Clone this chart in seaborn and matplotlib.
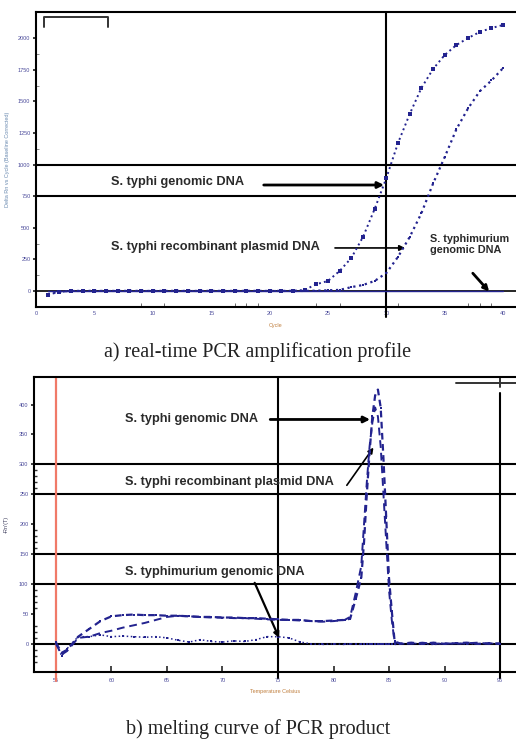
import numpy as np
import pandas as pd
import seaborn as sns
import matplotlib
matplotlib.use('Agg')
import matplotlib.pyplot as plt

# ---- panel a: amplification profile ----
cycles = list(range(1, 41))
typhi_genomic = [-30, -8, 0, 0, 0, 0, 0, 0, 0, 0, 0, 0, 0, 0, 0, 0, 0, 0, 0, 0, 0, 0,
                 8, 53, 79, 158, 261, 427, 649, 894, 1171, 1400, 1606, 1756, 1867,
                 1946, 2001, 2049, 2080, 2104]
typhi_plasmid = [-25, -5, 0, 0, 0, 0, 0, 0, 0, 0, 0, 0, 0, 0, 0, 0, 0, 0, 0, 0, 0, 0,
                 0, 2, 5, 8, 30, 47, 79, 142, 270, 427, 615, 850, 1060, 1280, 1445,
                 1580, 1665, 1764]
typhimurium = [0, 0, 0, 0, 0, 0, 0, 0, 0, 0, 0, 0, 0, 0, 0, 0, 0, 0, 0, 0,
               0, 0, 0, 0, 0, 0, 0, 0, 0, 0, 0, 0, 0, 0, 0, 0, 0, 0, 0, 0]
cycle_ticks = [0, 5, 10, 15, 20, 25, 30, 35, 40]
rn_ticks = [0, 250, 500, 750, 1000, 1250, 1500, 1750, 2000]

# ---- panel b: melting curve ----
temps = [55, 55.5, 56, 57, 58, 59, 60, 61, 62, 63, 64, 65, 66, 67, 68, 69, 70, 71, 72,
         73, 74, 75, 76, 77, 78, 79, 80, 81, 81.5, 82, 82.5, 82.75, 83, 83.25, 83.5,
         83.75, 84, 84.25, 84.5, 84.75, 85, 85.25, 85.5, 86, 87, 88, 89, 90, 91, 92,
         93, 94, 95]
melt_genomic = [2, -15, -10, 12, 25, 38, 46, 48, 49, 48, 48, 47, 47, 46, 45, 45, 44, 44,
                43, 43, 42, 41, 40, 40, 38, 38, 39, 40, 42, 75, 110, 170, 250, 320, 380,
                415, 425, 395, 310, 210, 110, 55, 5, 0, 2, 0, 2, 0, 1, 2, 0, 1, 0]
melt_plasmid = [0, -18, -12, 10, 12, 18, 22, 27, 31, 35, 40, 45, 47, 46, 45, 44, 44, 43,
                43, 42, 41, 40, 40, 39, 38, 37, 38, 40, 45, 85, 130, 200, 270, 330, 370,
                395, 380, 330, 250, 170, 90, 40, 3, 1, 0, 2, 0, 1, 0, 1, 2, 0, 1]
melt_typhimurium = [3, -20, -8, 12, 12, 15, 12, 13, 12, 11, 12, 10, 6, 3, 7, 4, 3, 5, 4,
                    7, 12, 12, 10, 3, 0, -1, 0, -1, 0, 0, -1, 0, 0, -1, 0, 0, -1, 0, 0,
                    -1, 0, 0, -1, 0, 1, 0, -1, 0, 1, 0, 0, 1, 0]
temp_ticks = [55, 60, 65, 70, 75, 80, 85, 90, 95]
deriv_ticks = [0, 50, 100, 150, 200, 250, 300, 350, 400]

sns.set_theme(style='white')
plt.rcParams['font.family'] = ['Liberation Sans', 'DejaVu Sans']
navy = '#23238f'
tickcol = '#4a4a9a'

fig = plt.figure(figsize=(5.16, 7.44), dpi=100)

# ================= panel a =================
ax1 = fig.add_axes([0.0698, 0.5874, 0.9302, 0.3965])
ax1.axhline(0, color='black', lw=1.2, zorder=1)
ax1.axhline(1000, color='black', lw=1.5, zorder=1)
ax1.axhline(750, color='black', lw=1.5, zorder=1)
ax1.axvline(30, ymin=-0.035, ymax=1, color='black', lw=1.5, zorder=1, clip_on=False)
sns.lineplot(x=cycles, y=typhimurium, ax=ax1, color=navy, lw=1, zorder=3)
sns.lineplot(x=cycles, y=typhi_plasmid, ax=ax1, color=navy, lw=1.6, linestyle=':',
             marker='s', markersize=2, markeredgewidth=0, zorder=4)
sns.lineplot(x=cycles, y=typhi_genomic, ax=ax1, color=navy, lw=1.4, linestyle=':',
             marker='s', markersize=3.2, markeredgewidth=0, zorder=5)
ax1.set_xlim(0.2, 41.1)
ax1.set_ylim(-127, 2207)
ax1.set_xticks(cycle_ticks)
ax1.set_yticks(rn_ticks)
ax1.set_xticks([9, 10, 11, 17, 18, 19, 24, 25, 26, 31, 37, 38, 39], minor=True)
ax1.set_yticks([125, 375, 1125, 1625, 1875], minor=True)
ax1.tick_params(axis='x', which='major', direction='in', length=0, labelsize=4,
                labelcolor=tickcol, pad=3)
ax1.tick_params(axis='x', which='minor', direction='in', length=3, width=0.6,
                bottom=True, color='#555555')
ax1.tick_params(axis='y', which='major', direction='out', length=2, labelsize=4,
                labelcolor=tickcol, pad=2, left=True)
ax1.tick_params(axis='y', which='minor', direction='in', length=2, width=0.6,
                left=True, color='#777777')
for s in ['left', 'bottom', 'top']:
    ax1.spines[s].set_color('black')
    ax1.spines[s].set_linewidth(1.5)
ax1.spines['right'].set_visible(False)
ax1.set_xlabel('Cycle', fontsize=4, color='#c08040', labelpad=5)
ax1.set_ylabel('Delta Rn vs Cycle (Baseline Corrected)', fontsize=4, color='#6a8ab0',
               labelpad=6)
# bracket in top-left corner
ax1.plot([0.0167, 0.0167, 0.15, 0.15], [0.949, 0.983, 0.983, 0.949], color='#333333',
         lw=1.4, transform=ax1.transAxes, clip_on=False)

afont = dict(fontsize=9.2, fontweight='bold', color='#2a2a2a')
ax1.text(6.4, 860, 'S. typhi genomic DNA', va='center', ha='left', **afont)
ax1.annotate('', xy=(29.8, 838), xytext=(19.5, 838),
             arrowprops=dict(arrowstyle='-|>', color='black', lw=2, mutation_scale=9,
                             shrinkA=0, shrinkB=0))
ax1.text(6.4, 350, 'S. typhi recombinant plasmid DNA', va='center', ha='left', **afont)
ax1.annotate('', xy=(31.6, 340), xytext=(25.6, 340),
             arrowprops=dict(arrowstyle='-|>', color='black', lw=1.2, mutation_scale=8,
                             shrinkA=0, shrinkB=0))
ax1.text(33.7, 370, 'S. typhimurium\ngenomic DNA', va='center', ha='left',
         linespacing=1.1, fontsize=7.8, fontweight='bold', color='#2a2a2a')
ax1.annotate('', xy=(38.8, -5), xytext=(37.4, 140),
             arrowprops=dict(arrowstyle='-|>', color='black', lw=2, mutation_scale=8,
                             shrinkA=0, shrinkB=0))

# ================= panel b =================
ax2 = fig.add_axes([0.0659, 0.0968, 0.9341, 0.3965])
for h in [0, 100, 150, 250, 300]:
    ax2.axhline(h, color='black', lw=1.5, zorder=1)
ax2.axvline(75, ymin=-0.02, ymax=1, color='black', lw=1.5, zorder=1, clip_on=False)
ax2.axvline(95, ymin=-0.02, ymax=0.946, color='black', lw=1.5, zorder=1, clip_on=False)
ax2.axvline(55, ymin=-0.03, ymax=1, color='#f07a68', lw=1.6, zorder=2, clip_on=False)
ax2.plot([0.875, 1.0], [0.98, 0.98], color='#333333', lw=1.4, transform=ax2.transAxes,
         clip_on=False)
ax2.plot([0.9668, 0.9668], [0.965, 0.995], color='#333333', lw=1.4,
         transform=ax2.transAxes, clip_on=False)
sns.lineplot(x=temps, y=melt_typhimurium, ax=ax2, color=navy, lw=1.1, linestyle=':',
             marker='s', markersize=1.6, markeredgewidth=0, zorder=3)
sns.lineplot(x=temps, y=melt_plasmid, ax=ax2, color=navy, lw=1.4, linestyle=(0, (4, 2.5)),
             zorder=4)
sns.lineplot(x=temps, y=melt_genomic, ax=ax2, color=navy, lw=1.6, linestyle=(0, (3, 2)),
             marker='s', markersize=2, markeredgewidth=0, zorder=5)
ax2.set_xlim(53.02, 96.44)
ax2.set_ylim(-47, 446)
ax2.set_xticks(temp_ticks)
ax2.set_yticks(deriv_ticks)
ax2.set_yticks([-30, -20, -10, 10, 20, 30, 60, 70, 80, 90, 160, 170, 180, 190,
                260, 270, 280, 290], minor=True)
ax2.tick_params(axis='x', which='major', direction='in', length=4, width=1.2,
                labelsize=4, labelcolor=tickcol, pad=4, bottom=True)
ax2.tick_params(axis='y', which='major', direction='out', length=2, labelsize=4,
                labelcolor=tickcol, pad=2, left=True)
ax2.tick_params(axis='y', which='minor', direction='in', length=2.5, width=1,
                left=True, color='#333333')
for s in ['left', 'bottom', 'top']:
    ax2.spines[s].set_color('black')
    ax2.spines[s].set_linewidth(1.5)
ax2.spines['right'].set_visible(False)
ax2.set_xlabel('Temperature Celsius', fontsize=4, color='#c08040', labelpad=5)
ax2.set_ylabel("-Rn'(T)", fontsize=4, color='#404060', labelpad=7)

ax2.text(61.2, 376, 'S. typhi genomic DNA', va='center', ha='left', **afont)
ax2.annotate('', xy=(83.3, 375), xytext=(74.3, 375),
             arrowprops=dict(arrowstyle='-|>', color='black', lw=2, mutation_scale=9,
                             shrinkA=0, shrinkB=0))
ax2.text(61.2, 270, 'S. typhi recombinant plasmid DNA', va='center', ha='left', **afont)
ax2.annotate('', xy=(83.6, 328), xytext=(81.2, 265),
             arrowprops=dict(arrowstyle='-|>', color='black', lw=1.2, mutation_scale=8,
                             shrinkA=0, shrinkB=0))
ax2.text(61.2, 120, 'S. typhimurium genomic DNA', va='center', ha='left', **afont)
ax2.annotate('', xy=(75.1, 10), xytext=(72.9, 102),
             arrowprops=dict(arrowstyle='-|>', color='black', lw=1.6, mutation_scale=8,
                             shrinkA=0, shrinkB=0))

# captions
fig.text(0.5, 1 - 352 / 744, 'a) real-time PCR amplification profile', ha='center',
         va='center', fontsize=14.5, family=['Liberation Serif', 'DejaVu Serif'],
         color='#222222')
fig.text(0.5, 1 - 729 / 744, 'b) melting curve of PCR product', ha='center',
         va='center', fontsize=14.5, family=['Liberation Serif', 'DejaVu Serif'],
         color='#222222')

fig.savefig('out.png', dpi=100)
